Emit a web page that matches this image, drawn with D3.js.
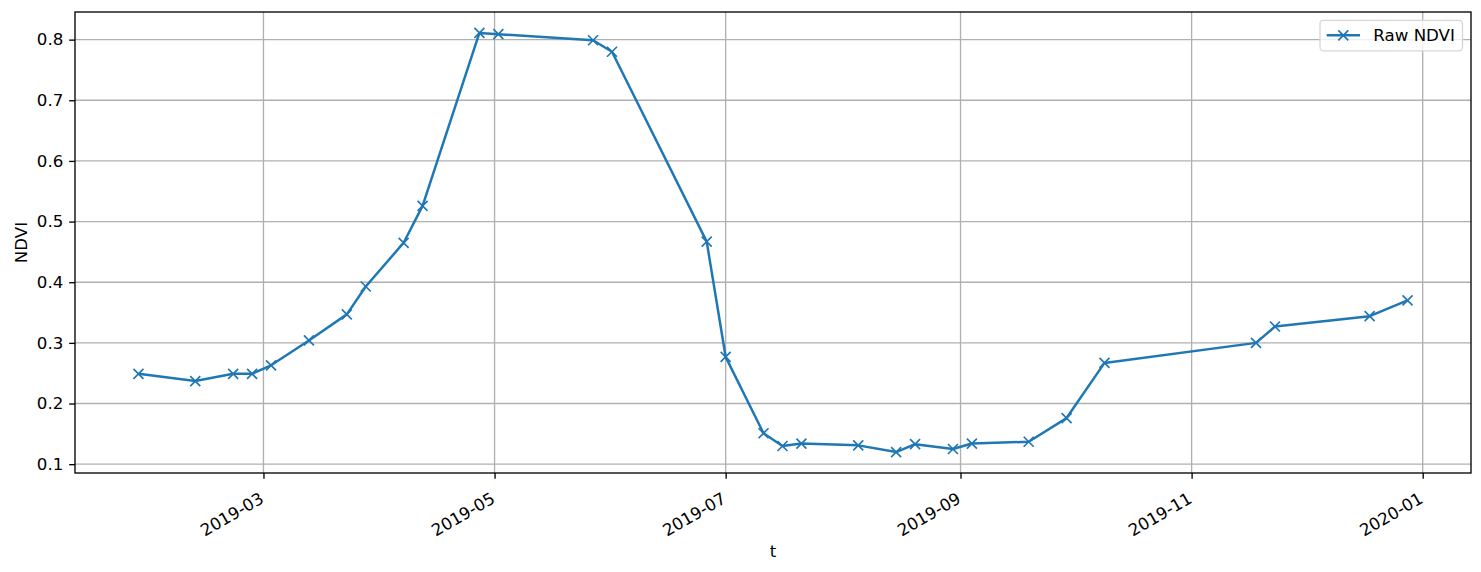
<!DOCTYPE html>
<html>
<head>
<meta charset="utf-8">
<script src="https://cdn.jsdelivr.net/npm/d3@7"></script>
<style>
    body { margin: 0; background: #fff; }
    svg text { font-family: "DejaVu Sans", sans-serif; }
</style>
</head>
<body>
<div id="chart"></div>
<script>
var DATES = ['2019-01-27', '2019-02-11', '2019-02-21', '2019-02-26', '2019-03-03', '2019-03-13',
    '2019-03-23', '2019-03-28', '2019-04-07', '2019-04-12', '2019-04-27', '2019-05-02',
    '2019-05-27', '2019-06-01', '2019-06-26', '2019-07-01', '2019-07-11', '2019-07-16',
    '2019-07-21', '2019-08-05', '2019-08-15', '2019-08-20', '2019-08-30', '2019-09-04',
    '2019-09-19', '2019-09-29', '2019-10-09', '2019-11-18', '2019-11-23', '2019-12-18',
    '2019-12-28'];
var NDVI = [0.249, 0.237, 0.249, 0.249, 0.263, 0.304,
    0.347, 0.393, 0.465, 0.526, 0.811, 0.809,
    0.799, 0.780, 0.467, 0.277, 0.151, 0.130,
    0.134, 0.131, 0.120, 0.133, 0.125, 0.134,
    0.137, 0.176, 0.267, 0.300, 0.327, 0.344,
    0.370];
var Y_TICKS = [0.1, 0.2, 0.3, 0.4, 0.5, 0.6, 0.7, 0.8];
var SERIES_NAME = 'Raw NDVI',
    X_LABEL = 't',
    Y_LABEL = 'NDVI';

// figure was drawn at 120 dpi, so 1pt = 1.667px
var WIDTH = 1481, HEIGHT = 572,
    LEFT = 75, RIGHT = 1471, TOP = 12, BOTTOM = 473,
    BLUE = '#1f77b4', FONT = '16.67px',
    PT = 120 / 72;

var parse = d3.utcParse('%Y-%m-%d');
var data = DATES.map(function(d, i){ return { t: parse(d), v: NDVI[i] }; });

var svg = d3.select('#chart').append('svg')
    .attr('width', WIDTH)
    .attr('height', HEIGHT);

// matplotlib style 5% margins on both axes
var t_ext = d3.extent(data, function(d){ return d.t; }),
    v_ext = d3.extent(data, function(d){ return d.v; });
var t_pad = (t_ext[1] - t_ext[0]) * 0.05,
    v_pad = (v_ext[1] - v_ext[0]) * 0.05;

var x = d3.scaleUtc()
    .domain([new Date(+t_ext[0] - t_pad), new Date(+t_ext[1] + t_pad)])
    .range([LEFT, RIGHT]);
var y = d3.scaleLinear()
    .domain([v_ext[0] - v_pad, v_ext[1] + v_pad])
    .range([BOTTOM, TOP]);

var x_ticks = x.ticks(d3.utcMonth.every(2));

// grid
var grid = svg.append('g').attr('class', 'grid')
    .attr('stroke', '#b0b0b0').attr('stroke-width', 0.8 * PT);
grid.selectAll('line.gx').data(x_ticks).enter().append('line')
    .attr('x1', function(d){ return x(d); }).attr('x2', function(d){ return x(d); })
    .attr('y1', TOP).attr('y2', BOTTOM);
grid.selectAll('line.gy').data(Y_TICKS).enter().append('line')
    .attr('x1', LEFT).attr('x2', RIGHT)
    .attr('y1', function(d){ return y(d); }).attr('y2', function(d){ return y(d); });

// axes
var x_axis = svg.append('g')
    .attr('transform', 'translate(0,' + BOTTOM + ')')
    .call(d3.axisBottom(x).tickValues(x_ticks).tickFormat(d3.utcFormat('%Y-%m')).tickSizeOuter(0).tickSize(3.5 * PT));
x_axis.select('.domain').remove();
x_axis.selectAll('text')
    .attr('font-size', FONT)
    .attr('fill', '#000')
    .attr('text-anchor', 'end')
    .attr('dy', null)
    .attr('y', null)
    .attr('transform', 'translate(1,29) rotate(-30)');
x_axis.selectAll('line').attr('stroke', '#000').attr('stroke-width', 0.8 * PT);

var y_axis = svg.append('g')
    .attr('transform', 'translate(' + LEFT + ',0)')
    .call(d3.axisLeft(y).tickValues(Y_TICKS).tickFormat(d3.format('.1f')).tickSize(3.5 * PT).tickPadding(3.5 * PT));
y_axis.select('.domain').remove();
y_axis.selectAll('text').attr('font-size', FONT).attr('fill', '#000');
y_axis.selectAll('line').attr('stroke', '#000').attr('stroke-width', 0.8 * PT);

// frame
svg.append('rect')
    .attr('x', LEFT).attr('y', TOP)
    .attr('width', RIGHT - LEFT).attr('height', BOTTOM - TOP)
    .attr('fill', 'none').attr('stroke', '#000').attr('stroke-width', 0.8 * PT);

// series
var line = d3.line()
    .x(function(d){ return x(d.t); })
    .y(function(d){ return y(d.v); });

svg.append('path')
    .datum(data)
    .attr('d', line)
    .attr('fill', 'none')
    .attr('stroke', BLUE)
    .attr('stroke-width', 1.5 * PT)
    .attr('stroke-linejoin', 'round')
    .attr('stroke-linecap', 'butt');

function cross(size){
    var h = size / 2;
    return 'M' + -h + ',' + -h + 'L' + h + ',' + h + 'M' + -h + ',' + h + 'L' + h + ',' + -h;
}

svg.append('g').selectAll('path')
    .data(data).enter().append('path')
    .attr('transform', function(d){ return 'translate(' + x(d.t) + ',' + y(d.v) + ')'; })
    .attr('d', cross(6 * PT))
    .attr('stroke', BLUE)
    .attr('stroke-width', 1 * PT)
    .attr('fill', 'none');

// axis labels
svg.append('text')
    .attr('x', (LEFT + RIGHT) / 2).attr('y', 556.5)
    .attr('text-anchor', 'middle')
    .attr('font-size', FONT)
    .text(X_LABEL);

svg.append('text')
    .attr('transform', 'translate(27,' + (TOP + BOTTOM) / 2 + ') rotate(-90)')
    .attr('text-anchor', 'middle')
    .attr('font-size', FONT)
    .text(Y_LABEL);

// legend
var legend = svg.append('g').attr('class', 'legend');
legend.append('rect')
    .attr('x', 1320).attr('y', 20.3)
    .attr('width', 142.5).attr('height', 30.5)
    .attr('rx', 3.5).attr('ry', 3.5)
    .attr('fill', 'rgba(255,255,255,0.8)')
    .attr('stroke', '#d6d6d6')
    .attr('stroke-width', 1.3);
legend.append('line')
    .attr('x1', 1326.7).attr('x2', 1360)
    .attr('y1', 35.3).attr('y2', 35.3)
    .attr('stroke', BLUE).attr('stroke-width', 1.5 * PT);
legend.append('path')
    .attr('transform', 'translate(1343.3,35.3)')
    .attr('d', cross(6 * PT))
    .attr('stroke', BLUE).attr('stroke-width', 1 * PT).attr('fill', 'none');
legend.append('text')
    .attr('x', 1373.3).attr('y', 41.3)
    .attr('font-size', FONT)
    .text(SERIES_NAME);
</script>
</body>
</html>
